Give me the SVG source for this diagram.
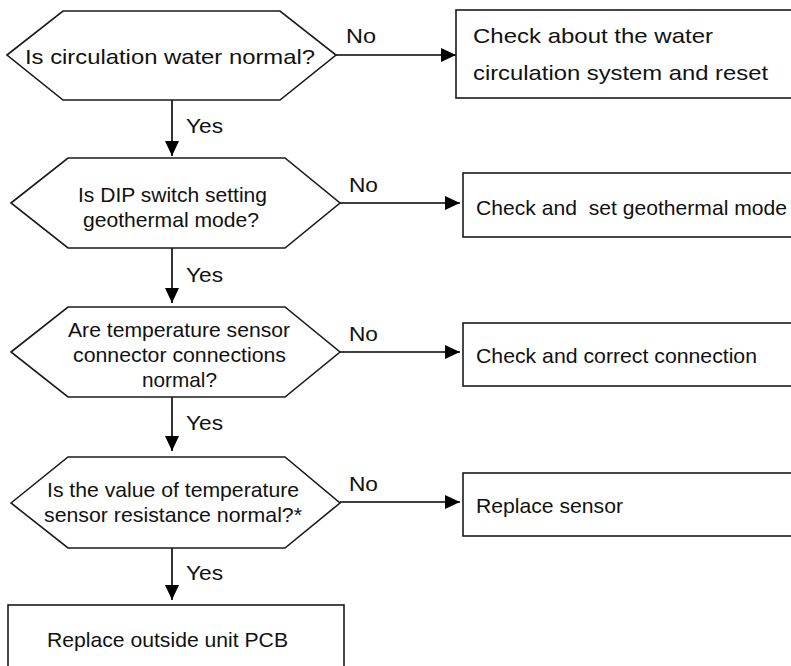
<svg xmlns="http://www.w3.org/2000/svg" width="791" height="666" viewBox="0 0 791 666">
<style>
.shape{fill:#fff;stroke:#1a1a1a;stroke-width:1.6}
.conn{fill:none;stroke:#000;stroke-width:1.6}
text{font-family:"Liberation Sans",Arial,Helvetica,sans-serif;font-size:21px;fill:#111;white-space:pre}
</style>
<defs>
<marker id="arr" markerUnits="userSpaceOnUse" markerWidth="15" markerHeight="14" refX="15" refY="7" orient="auto">
<path d="M0,0 L15,7 L0,14 z" fill="#000"/>
</marker>
</defs>
<rect width="791" height="666" fill="#fff"/>
<g id="connectors">
<line class="conn" x1="336" y1="55" x2="456" y2="55" marker-end="url(#arr)"/>
<line class="conn" x1="340" y1="203" x2="460" y2="203" marker-end="url(#arr)"/>
<line class="conn" x1="340" y1="352" x2="460" y2="352" marker-end="url(#arr)"/>
<line class="conn" x1="340" y1="502" x2="460" y2="502" marker-end="url(#arr)"/>
<line class="conn" x1="172" y1="100" x2="172" y2="156" marker-end="url(#arr)"/>
<line class="conn" x1="172" y1="248" x2="172" y2="303" marker-end="url(#arr)"/>
<line class="conn" x1="172" y1="397" x2="172" y2="451" marker-end="url(#arr)"/>
<line class="conn" x1="172" y1="548" x2="172" y2="600" marker-end="url(#arr)"/>
<text x="346" y="43" textLength="30" lengthAdjust="spacingAndGlyphs">No</text>
<text x="349" y="192" textLength="29" lengthAdjust="spacingAndGlyphs">No</text>
<text x="349" y="341" textLength="29" lengthAdjust="spacingAndGlyphs">No</text>
<text x="349" y="491" textLength="29" lengthAdjust="spacingAndGlyphs">No</text>
<text x="186" y="133" textLength="37" lengthAdjust="spacingAndGlyphs">Yes</text>
<text x="186" y="282" textLength="37" lengthAdjust="spacingAndGlyphs">Yes</text>
<text x="186" y="430" textLength="37" lengthAdjust="spacingAndGlyphs">Yes</text>
<text x="186" y="580" textLength="37" lengthAdjust="spacingAndGlyphs">Yes</text>
</g>
<g id="q1">
<polygon class="shape" points="7,55 63,11 280,11 336,55 280,100 63,100"/>
<text x="25" y="64" textLength="290" lengthAdjust="spacingAndGlyphs">Is circulation water normal?</text>
</g>
<g id="a1">
<rect class="shape" x="456" y="10" width="350" height="88"/>
<text x="473" y="43" textLength="240" lengthAdjust="spacingAndGlyphs">Check about the water</text>
<text x="473" y="80" textLength="295" lengthAdjust="spacingAndGlyphs">circulation system and reset</text>
</g>
<g id="q2">
<polygon class="shape" points="11,203 68,158 285,158 340,203 285,248 68,248"/>
<text x="78" y="202" textLength="189" lengthAdjust="spacingAndGlyphs">Is DIP switch setting</text>
<text x="83" y="227" textLength="176" lengthAdjust="spacingAndGlyphs">geothermal mode?</text>
</g>
<g id="a2">
<rect class="shape" x="463" y="173" width="350" height="64"/>
<text x="476" y="215" textLength="311" lengthAdjust="spacingAndGlyphs">Check and  set geothermal mode</text>
</g>
<g id="q3">
<polygon class="shape" points="11,352 68,307 285,307 340,352 285,397 68,397"/>
<text x="68" y="337" textLength="222" lengthAdjust="spacingAndGlyphs">Are temperature sensor</text>
<text x="73" y="362" textLength="213" lengthAdjust="spacingAndGlyphs">connector connections</text>
<text x="142" y="387" textLength="75" lengthAdjust="spacingAndGlyphs">normal?</text>
</g>
<g id="a3">
<rect class="shape" x="463" y="323" width="350" height="63"/>
<text x="476" y="363" textLength="281" lengthAdjust="spacingAndGlyphs">Check and correct connection</text>
</g>
<g id="q4">
<polygon class="shape" points="11,503 68,457 285,457 340,503 285,548 68,548"/>
<text x="47" y="497" textLength="252" lengthAdjust="spacingAndGlyphs">Is the value of temperature</text>
<text x="44" y="522" textLength="258" lengthAdjust="spacingAndGlyphs">sensor resistance normal?*</text>
</g>
<g id="a4">
<rect class="shape" x="463" y="473" width="350" height="63"/>
<text x="476" y="513" textLength="147" lengthAdjust="spacingAndGlyphs">Replace sensor</text>
</g>
<g id="a5">
<rect class="shape" x="8" y="605" width="336" height="80"/>
<text x="47" y="647" textLength="241" lengthAdjust="spacingAndGlyphs">Replace outside unit PCB</text>
</g>
</svg>
